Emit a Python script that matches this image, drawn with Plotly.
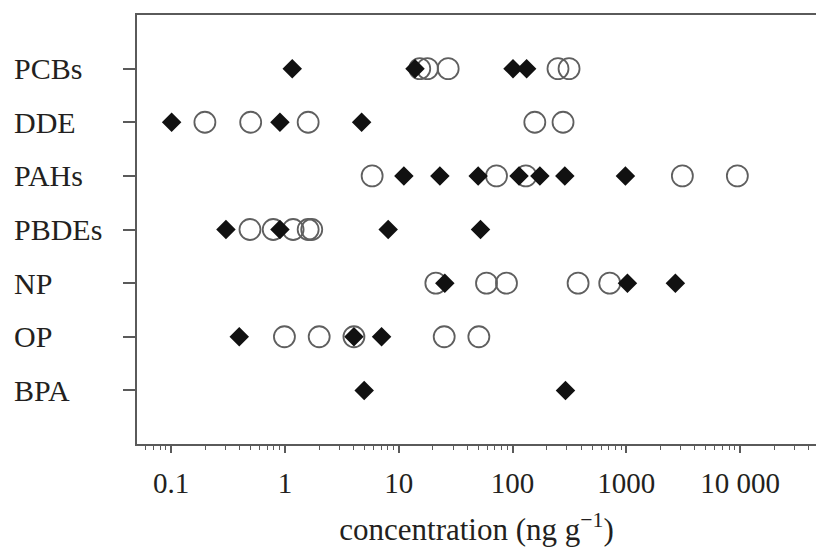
import plotly.graph_objects as go

categories = ["PCBs", "DDE", "PAHs", "PBDEs", "NP", "OP", "BPA"]

# open circles (one list per category)
circles = {
    "PCBs": [15.3, 17.9, 27.2, 251, 314],
    "DDE": [0.198, 0.50, 1.60, 157, 278],
    "PAHs": [5.84, 72.3, 131, 3110, 9460],
    "PBDEs": [0.493, 0.789, 1.18, 1.60, 1.72],
    "NP": [21.2, 59.1, 88.5, 377, 715],
    "OP": [0.99, 2.0, 4.04, 25.1, 50.6],
    "BPA": [],
}

# filled diamonds
diamonds = {
    "PCBs": [1.16, 13.9, 101, 133],
    "DDE": [0.101, 0.904, 4.72],
    "PAHs": [11.1, 23.0, 49.9, 114, 174, 288, 982],
    "PBDEs": [0.303, 0.904, 8.08, 52.3],
    "NP": [25.4, 1023, 2700],
    "OP": [0.397, 4.04, 7.07],
    "BPA": [4.97, 292],
}

tick_vals = [0.1, 1, 10, 100, 1000, 10000]
tick_text = ["0.1", "1", "10", "100", "1000", "10 000"]

n = len(categories)
ypos = {c: n - i for i, c in enumerate(categories)}

cx, cy, dx, dy = [], [], [], []
for c in categories:
    for v in circles[c]:
        cx.append(v); cy.append(ypos[c])
    for v in diamonds[c]:
        dx.append(v); dy.append(ypos[c])

FONT = "Liberation Serif, Times New Roman, serif"
TXT = "#231f20"
AX = "#5a5a5a"

fig = go.Figure()
fig.add_trace(go.Scatter(
    x=cx, y=cy, mode="markers",
    marker=dict(symbol="circle-open", size=21, color="#5f5f5f",
                line=dict(width=1.8, color="#5f5f5f")),
    showlegend=False, hoverinfo="x+y"))
fig.add_trace(go.Scatter(
    x=dx, y=dy, mode="markers",
    marker=dict(symbol="diamond", size=15, color="#111111",
                line=dict(width=0)),
    showlegend=False, hoverinfo="x+y"))

minor_vals = []
for e in range(-2, 5):
    for m in range(2, 10):
        minor_vals.append(m * 10 ** e)

W, H = 816, 547
ML, MR, MT, MB = 137, 0, 15, 103
pw = W - ML - MR

fig.update_layout(
    width=W, height=H,
    margin=dict(l=ML, r=MR, t=MT, b=MB, pad=0),
    paper_bgcolor="white", plot_bgcolor="white",
    font=dict(family=FONT, size=30, color=TXT),
    xaxis=dict(
        type="log", range=[-1.30, 4.667], automargin=False,
        showline=True, linecolor=AX, linewidth=2, mirror=True,
        ticks="outside", ticklen=7, tickwidth=1.5, tickcolor=AX,
        tickmode="array", tickvals=tick_vals, ticktext=tick_text,
        ticklabelstandoff=5,
        tickfont=dict(family=FONT, size=29, color=TXT),
        showgrid=False, zeroline=False,
        minor=dict(tickmode="array", tickvals=minor_vals, ticks="outside",
                   ticklen=4, tickwidth=1.2, tickcolor=AX, showgrid=False),
        title=dict(text="concentration (ng g<sup>−1</sup>)",
                   font=dict(family=FONT, size=31, color=TXT), standoff=22),
    ),
    yaxis=dict(
        range=[0, n + 1], automargin=False,
        showline=True, linecolor=AX, linewidth=2,
        ticks="outside", ticklen=12, tickwidth=1.5, tickcolor=AX,
        tickmode="array", tickvals=[ypos[c] for c in categories],
        showticklabels=False, showgrid=False, zeroline=False,
    ),
)

for c in categories:
    fig.add_annotation(
        x=(12 - ML) / pw, xref="paper", y=ypos[c], yref="y",
        text=c, showarrow=False, xanchor="left", yanchor="middle",
        font=dict(family=FONT, size=30, color=TXT))

fig.write_html("out.html")
